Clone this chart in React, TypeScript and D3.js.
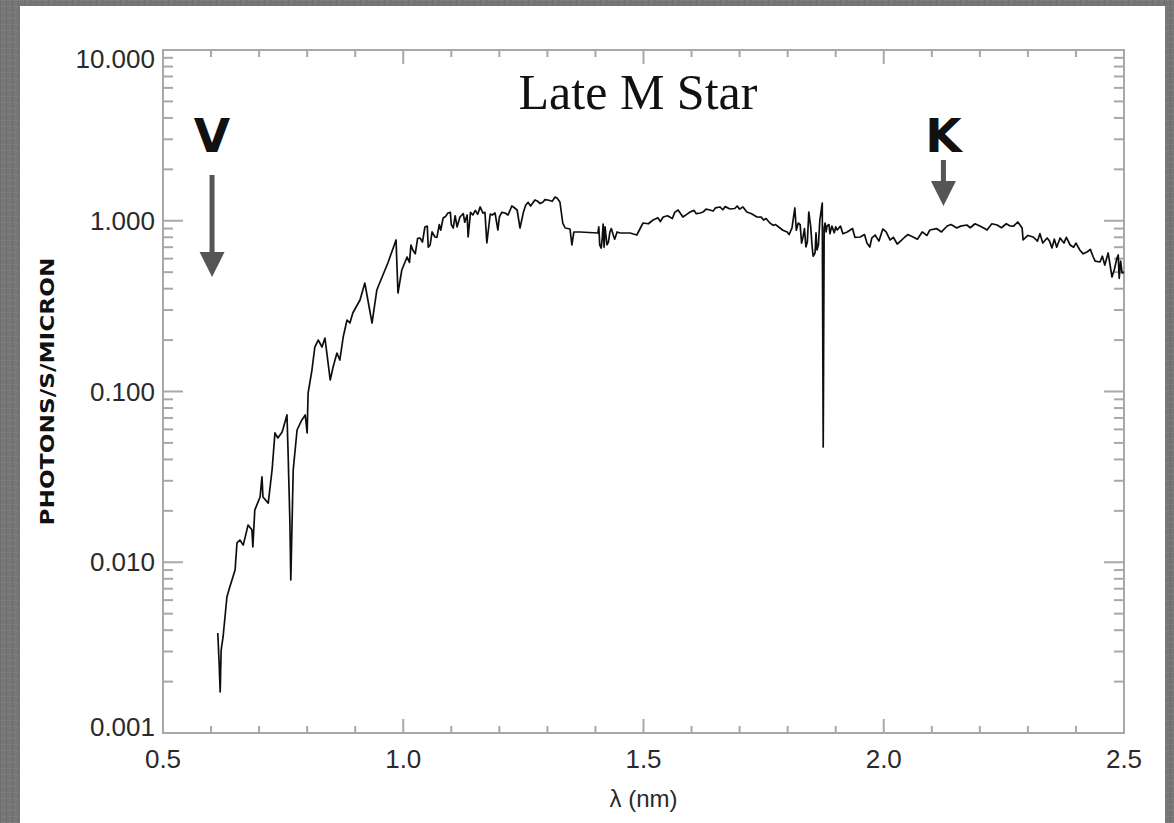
import React from "react";
import * as d3 from "d3";

// Spectrum of a late M dwarf: wavelength (micron) and photon flux
const WAVELENGTH = [
  0.614, 0.617, 0.619, 0.621, 0.625, 0.633, 0.639, 0.65, 0.654, 0.66, 0.667, 0.677, 0.685, 0.687, 0.691,
  0.702, 0.706, 0.708, 0.719, 0.727, 0.733, 0.739, 0.748, 0.758, 0.76, 0.764, 0.766, 0.771, 0.779, 0.789,
  0.796, 0.8, 0.802, 0.81, 0.816, 0.823, 0.831, 0.837, 0.841, 0.848, 0.854, 0.862, 0.868, 0.875, 0.883,
  0.889, 0.895, 0.91, 0.92, 0.935, 0.945, 0.956, 0.968, 0.985, 0.989, 0.997, 1.008, 1.02, 1.035, 1.045,
  1.056, 1.066, 1.083, 1.093, 1.104, 1.118, 1.133, 1.135, 1.145, 1.16, 1.166, 1.174, 1.181, 1.191, 1.197,
  1.212, 1.226, 1.237, 1.243, 1.255, 1.274, 1.291, 1.301, 1.316, 1.326, 1.332, 1.337, 1.347, 1.351, 1.355,
  1.368, 1.405, 1.412, 1.416, 1.424, 1.43, 1.437, 1.451, 1.472, 1.486, 1.499, 1.52, 1.541, 1.572, 1.582,
  1.597, 1.618, 1.638, 1.659, 1.68, 1.707, 1.715, 1.736, 1.763, 1.784, 1.799, 1.809, 1.815, 1.822, 1.832,
  1.838, 1.844, 1.851, 1.857, 1.861, 1.867, 1.872, 1.874, 1.876, 1.882, 1.903, 1.924, 1.951, 1.971, 1.982,
  1.998, 2.013, 2.028, 2.044, 2.061, 2.096, 2.132, 2.152, 2.173, 2.2, 2.215, 2.236, 2.263, 2.279, 2.288,
  2.29, 2.311, 2.331, 2.34, 2.35, 2.367, 2.388, 2.408, 2.423, 2.436, 2.45, 2.467, 2.475, 2.488, 2.496,
];

const FLUX = [
  0.00385, 0.0025, 0.00174, 0.00306, 0.00365, 0.00626, 0.00716, 0.00901, 0.013, 0.0135, 0.0126, 0.0165, 0.0155, 0.0123, 0.0202,
  0.0241, 0.0316, 0.0241, 0.0222, 0.0347, 0.0572, 0.0534, 0.0579, 0.0729, 0.0473, 0.0177, 0.00787, 0.0347, 0.0595, 0.0681,
  0.0729, 0.0572, 0.098, 0.1336, 0.1822, 0.2002, 0.1822, 0.2057, 0.168, 0.1168, 0.1392, 0.168, 0.1529, 0.2085, 0.2622,
  0.2518, 0.2883, 0.3435, 0.4318, 0.2518, 0.393, 0.4683, 0.5657, 0.7716, 0.3775, 0.5147, 0.6134, 0.6741, 0.7925, 0.9192,
  0.7211, 0.8032, 1.038, 1.11, 0.9068, 1.052, 1.081, 0.8032, 1.081, 1.204, 1.11, 0.7407, 1.095, 1.11, 0.8826,
  1.11, 1.22, 1.156, 0.9068, 1.236, 1.323, 1.288, 1.323, 1.377, 1.288, 0.97, 0.9068, 0.8946, 0.7211, 0.8591,
  0.8591, 0.8477, 0.6925, 0.9572, 0.7211, 0.8591, 0.825, 0.8477, 0.8477, 0.825, 0.97, 1.01, 1.052, 1.156, 1.052,
  1.125, 1.11, 1.156, 1.204, 1.172, 1.204, 1.125, 1.052, 0.97, 0.9068, 0.8591, 0.9068, 1.188, 0.97, 0.8032,
  0.7019, 1.125, 0.7019, 0.6475, 0.6741, 1.01, 1.27, 0.0473, 0.9068, 0.9317, 0.8826, 0.8591, 0.8032, 0.7019, 0.825,
  0.8946, 0.7716, 0.7308, 0.8032, 0.8032, 0.8826, 0.9317, 0.9068, 0.9443, 0.9317, 0.8826, 0.9443, 0.9317, 0.9833, 0.9068,
  0.7716, 0.8032, 0.7407, 0.7925, 0.6925, 0.7925, 0.7211, 0.6741, 0.6561, 0.6134, 0.5733, 0.6475, 0.4683, 0.6303, 0.4943,
];

// Finer samples of the small-scale structure between the points above
const DETAIL_WAVELENGTH = [
  1.013, 1.016, 1.025, 1.03, 1.04, 1.05, 1.052, 1.06, 1.07, 1.075, 1.078, 1.088, 1.098, 1.1, 1.108, 1.112,
  1.125, 1.128, 1.14, 1.15, 1.155, 1.17, 1.185, 1.2, 1.205, 1.218, 1.23, 1.25, 1.26, 1.265, 1.28, 1.285,
  1.295, 1.31, 1.32,
  1.407, 1.409, 1.414, 1.418, 1.42, 1.427, 1.433, 1.44, 1.445,
  1.51, 1.53, 1.535, 1.55, 1.56, 1.565, 1.59, 1.605, 1.61, 1.625, 1.63, 1.645, 1.65, 1.665, 1.67, 1.69,
  1.695, 1.7, 1.725, 1.745, 1.75, 1.755, 1.77, 1.775, 1.79, 1.803,
  1.818, 1.826, 1.829, 1.835, 1.841, 1.848, 1.853, 1.859, 1.864,
  1.878, 1.88, 1.886, 1.888, 1.892, 1.897, 1.9,
  1.91, 1.915, 1.935, 1.94, 1.96, 1.965, 1.975, 1.99, 2.005, 2.02, 2.035, 2.05, 2.07, 2.08, 2.09, 2.11,
  2.12, 2.14, 2.16, 2.18, 2.19, 2.21, 2.225, 2.245, 2.255, 2.27,
  2.3, 2.32, 2.325, 2.345, 2.355, 2.36, 2.375, 2.38, 2.395, 2.4, 2.415, 2.43, 2.44, 2.455, 2.46, 2.48,
  2.485, 2.49, 2.493, 2.5,
];

const DETAIL_FLUX = [
  0.57, 0.72, 0.64, 0.79, 0.75, 0.93, 0.7, 0.86, 0.8, 0.95, 0.88, 1.06, 1.12, 0.95, 1.07, 0.92,
  1.1, 0.98, 1.12, 1.15, 1.09, 1.12, 1.08, 1.05, 1.12, 1.08, 1.2, 1.12, 1.28, 1.22, 1.3, 1.26,
  1.33, 1.3, 1.36,
  0.92, 0.72, 0.78, 0.7, 0.92, 0.75, 0.9, 0.78, 0.86,
  0.96, 1.04, 0.99, 1.07, 1.03, 1.12, 1.09, 1.15, 1.1, 1.13, 1.17, 1.14, 1.19, 1.16, 1.21, 1.18,
  1.22, 1.17, 1.1, 1.05, 1.01, 1.03, 0.94, 0.95, 0.88, 0.83,
  0.88, 0.95, 0.74, 0.9, 0.75, 0.92, 0.62, 0.85, 0.72,
  0.97, 0.86, 0.95, 0.84, 0.93, 0.85, 0.92,
  0.93, 0.84, 0.9, 0.8, 0.83, 0.74, 0.79, 0.76, 0.86, 0.8, 0.76, 0.83, 0.78, 0.86, 0.82, 0.9,
  0.86, 0.95, 0.93, 0.91, 0.96, 0.9, 0.96, 0.91, 0.96, 0.93,
  0.82, 0.76, 0.84, 0.76, 0.78, 0.7, 0.74, 0.8, 0.7, 0.74, 0.64, 0.68, 0.58, 0.62, 0.55, 0.52,
  0.6, 0.46, 0.58, 0.5,
];

const X_DOMAIN = [0.5, 2.5];
const Y_DOMAIN = [0.001, 10];
const X_MAJOR = [0.5, 1.0, 1.5, 2.0, 2.5];
const Y_MAJOR = [0.001, 0.01, 0.1, 1, 10];

const TITLE = "Late M Star";
const X_LABEL = "λ (nm)";
const Y_LABEL = "PHOTONS/S/MICRON";
const BAND_V = { label: "V", wavelength: 0.6 };
const BAND_K = { label: "K", wavelength: 2.12 };

const W = 1174;
const H = 823;
const plot = { left: 163, right: 1124, top: 50, bottom: 733 };

export default function App() {
  const x = d3.scaleLinear().domain(X_DOMAIN).range([plot.left, plot.right]);
  const y = d3.scaleLog().domain(Y_DOMAIN).range([plot.bottom, plot.top]);

  const data = d3.sort(
    [
      ...WAVELENGTH.map((w, i) => [w, FLUX[i]] as [number, number]),
      ...DETAIL_WAVELENGTH.map((w, i) => [w, DETAIL_FLUX[i]] as [number, number]),
    ],
    (d) => d[0]
  );
  const line = d3
    .line<[number, number]>()
    .x((d) => x(d[0]))
    .y((d) => y(d[1]));

  const xMinor = d3.range(5, 26).map((v) => v / 10);
  const yMinor = y.ticks();
  const isMajorY = (v: number) => Y_MAJOR.some((m) => Math.abs(m - v) / m < 1e-6);
  const isMajorX = (v: number) => X_MAJOR.some((m) => Math.abs(m - v) < 1e-6);

  const axisColor = "#a8a8a8";
  const textColor = "#2a2a2a";
  const fmtY = d3.format(".3f");
  const fmtX = d3.format(".1f");

  const yLabelShift = (v: number) => (v === 10 ? 9 : v === 0.001 ? -6 : 0);

  const arrow = (cx: number, y0: number, y1: number) => {
    const head = 25;
    return (
      <g fill="#555" stroke="none">
        <rect x={cx - 2.5} y={y0} width={5} height={y1 - y0 - head + 2} />
        <path d={`M${cx - 12.5},${y1 - head} L${cx + 12.5},${y1 - head} L${cx},${y1} Z`} />
      </g>
    );
  };

  return (
    <div style={{ position: "fixed", left: 0, top: 0, width: W, height: H }}>
      <svg width={W} height={H} viewBox={`0 0 ${W} ${H}`} style={{ display: "block" }}>
        <defs>
          <pattern id="linen" width="6" height="6" patternUnits="userSpaceOnUse">
            <rect width="6" height="6" fill="#767676" />
            <rect width="6" height="1" fill="#7f7f7f" />
            <rect width="1" height="6" fill="#6e6e6e" />
          </pattern>
          <filter id="soft" x="-5%" y="-5%" width="110%" height="110%">
            <feGaussianBlur stdDeviation="0.5" />
          </filter>
        </defs>
        <rect width={W} height={H} fill="url(#linen)" />
        <rect x={20} y={6} width={1145} height={H} fill="#ffffff" />

        {/* frame */}
        <rect
          x={plot.left}
          y={plot.top}
          width={plot.right - plot.left}
          height={plot.bottom - plot.top}
          fill="none"
          stroke={axisColor}
          strokeWidth={2}
        />

        {/* x ticks, bottom and top */}
        {xMinor.map((v) => {
          const len = isMajorX(v) ? 14 : 7;
          const px = x(v);
          return (
            <g key={`xt${v}`} stroke={axisColor} strokeWidth={2}>
              <line x1={px} x2={px} y1={plot.bottom} y2={plot.bottom - len} />
              <line x1={px} x2={px} y1={plot.top} y2={plot.top + len} />
            </g>
          );
        })}
        {/* y ticks, left and right */}
        {yMinor.map((v) => {
          const len = isMajorY(v) ? 20 : 10;
          const py = y(v);
          return (
            <g key={`yt${v}`} stroke={axisColor} strokeWidth={2}>
              <line x1={plot.left} x2={plot.left + len} y1={py} y2={py} />
              <line x1={plot.right} x2={plot.right - len} y1={py} y2={py} />
            </g>
          );
        })}

        {/* tick labels */}
        <g fontFamily="'Liberation Sans', Arial, sans-serif" fontSize={26} fill={textColor}>
          {X_MAJOR.map((v) => (
            <text key={`xl${v}`} x={x(v)} y={plot.bottom + 35} textAnchor="middle">
              {fmtX(v)}
            </text>
          ))}
          {Y_MAJOR.map((v) => (
            <text
              key={`yl${v}`}
              x={plot.left - 8}
              y={y(v) + 9 + yLabelShift(v)}
              textAnchor="end"
            >
              {fmtY(v)}
            </text>
          ))}
        </g>

        {/* axis titles */}
        <text
          x={(plot.left + plot.right) / 2}
          y={807}
          textAnchor="middle"
          fontFamily="'Liberation Sans', Arial, sans-serif"
          fontSize={24}
          fill={textColor}
        >
          {X_LABEL}
        </text>
        <text
          transform={`translate(54, ${(plot.top + plot.bottom) / 2}) rotate(-90)`}
          textAnchor="middle"
          fontFamily="'DejaVu Sans', sans-serif"
          fontWeight="bold"
          fontSize={20}
          fill="#111"
          textLength={268}
          lengthAdjust="spacingAndGlyphs"
        >
          {Y_LABEL}
        </text>

        {/* spectrum */}
        <path
          d={line(data) ?? ""}
          fill="none"
          stroke="#111"
          strokeWidth={1.7}
          strokeLinejoin="round"
          filter="url(#soft)"
        />

        {/* title */}
        <text
          x={638}
          y={109}
          textAnchor="middle"
          fontFamily="'Liberation Serif', 'Times New Roman', serif"
          fontSize={50}
          fill="#111"
        >
          {TITLE}
        </text>

        {/* photometric band markers */}
        <text
          x={x(BAND_V.wavelength) + 1}
          y={152}
          textAnchor="middle"
          fontFamily="'DejaVu Sans', sans-serif"
          fontWeight="bold"
          fontSize={47}
          fill="#111"
        >
          {BAND_V.label}
        </text>
        {arrow(x(BAND_V.wavelength) + 1, 175, 277)}
        <text
          x={x(BAND_K.wavelength) + 2}
          y={152}
          textAnchor="middle"
          fontFamily="'DejaVu Sans', sans-serif"
          fontWeight="bold"
          fontSize={47}
          fill="#111"
        >
          {BAND_K.label}
        </text>
        {arrow(x(BAND_K.wavelength) + 2, 160, 206)}
      </svg>
    </div>
  );
}
